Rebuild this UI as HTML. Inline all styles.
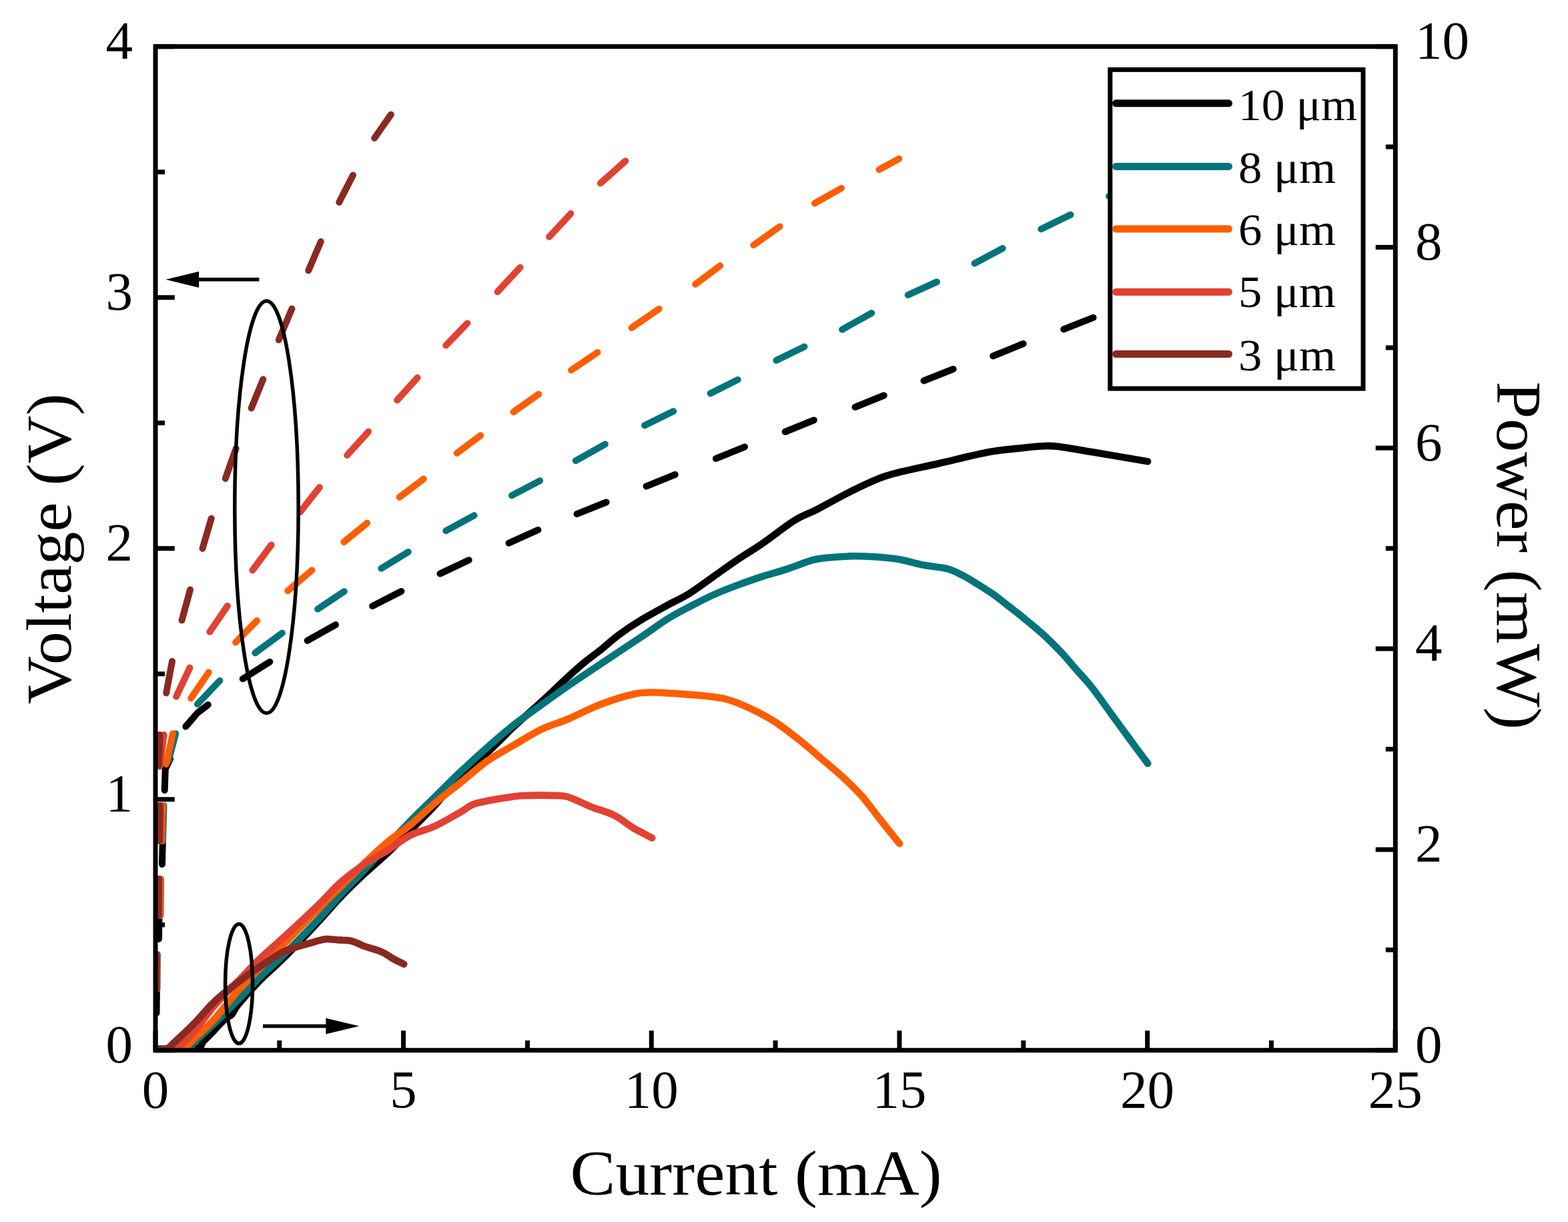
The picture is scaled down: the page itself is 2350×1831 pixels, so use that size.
<!DOCTYPE html>
<html><head><meta charset="utf-8"><title>Voltage and Power vs Current</title>
<style>html,body{margin:0;padding:0;background:#fff;overflow:hidden;}svg{display:block;}</style></head>
<body>
<svg xmlns="http://www.w3.org/2000/svg" width="2350" height="1831" viewBox="0 0 2350 1831">
<rect width="2350" height="1831" fill="#fff"/>
<defs><clipPath id="pa"><rect x="233.0" y="69.7" width="1858.3" height="1504.0"/></clipPath></defs>
<g fill="none" stroke-linecap="round" stroke-linejoin="round" clip-path="url(#pa)">
<path d="M1638.5,475.9 L1594.2,493.4 M1533.6,515.0 L1488.3,533.5 M1428.7,553.0 L1384.5,570.5 M1324.8,592.5 L1281.6,610.0 M1219.9,629.5 L1176.7,647.0 M1116.1,669.6 L1072.9,687.1 M1011.8,711.1 L968.6,728.7 M908.7,752.5 L864.6,770.2 M806.4,794.0 L762.6,813.8 M702.7,839.3 L659.5,859.6 M601.4,886.0 L558.2,908.1 M503.0,936.1 L460.7,959.9 M404.3,991.7 L363.8,1017.2 M311.8,1056.0 L295.9,1068.3 M295.9,1068.3 L278.3,1088.6 M255.0,1137.0 L247.8,1152.0 M247.8,1152.0 L246.7,1184.0 M244.0,1252.0 L243.0,1295.0 M238.5,1367.0 L238.0,1407.0 M235.0,1474.0 L234.5,1518.0" stroke="#000" stroke-width="10"/>
<path d="M1700.0,277.0 L1662.0,294.0 M1604.5,321.7 L1560.3,343.3 M1502.7,372.1 L1460.6,394.7 M1404.0,422.4 L1360.8,442.0 M1306.3,469.1 L1262.1,493.8 M1205.5,519.5 L1163.4,540.1 M1105.8,568.9 L1064.7,589.5 M1009.2,616.3 L966.0,637.4 M906.9,665.6 L862.8,690.3 M809.1,720.3 L767.1,742.4 M710.6,772.3 L668.3,795.3 M611.9,827.0 L571.4,851.7 M515.9,886.2 L476.2,912.6 M422.9,948.5 L382.3,978.4 M329.4,1019.9 L295.9,1055.1 M263.3,1099.2 L252.7,1139.7 M245.5,1207.0 L244.0,1260.0 M241.0,1317.0 L240.5,1372.0 M236.0,1430.0 L235.5,1482.0" stroke="#03747a" stroke-width="10"/>
<path d="M1347.4,237.8 L1317.6,254.2 M1261.1,282.0 L1221.0,304.6 M1168.5,339.5 L1129.5,367.3 M1079.1,398.2 L1042.1,425.9 M987.7,462.9 L946.6,491.1 M895.5,528.1 L856.1,554.6 M807.3,590.7 L769.7,617.2 M720.3,652.5 L684.7,678.9 M634.8,717.7 L598.7,745.0 M550.2,783.8 L515.5,812.0 M467.4,854.5 L431.3,885.3 M385.0,930.0 L353.2,962.6 M312.7,1007.5 L286.2,1046.3 M258.9,1099.2 L249.2,1145.0 M244.0,1207.0 L242.5,1260.0 M240.5,1317.0 L240.0,1372.0 M235.5,1430.0 L235.0,1482.0" stroke="#ff5e00" stroke-width="10"/>
<path d="M937.4,241.2 L900.0,274.6 M855.4,320.1 L823.1,354.9 M779.6,400.7 L745.6,437.2 M700.3,484.4 L668.3,517.6 M625.5,566.1 L595.2,599.6 M552.1,646.8 L520.3,682.0 M478.9,730.2 L449.8,767.2 M406.6,816.6 L378.4,854.5 M340.9,907.9 L314.4,946.7 M284.5,1000.5 L264.2,1043.7 M245.7,1101.0 L239.5,1148.5 M241.0,1207.0 L240.5,1260.0 M238.5,1317.0 L238.0,1372.0 M235.0,1430.0 L234.5,1482.0" stroke="#e14233" stroke-width="10"/>
<path d="M585.9,171.7 L561.2,207.0 M529.0,262.5 L508.3,303.0 M480.8,362.1 L462.3,405.3 M437.5,462.6 L417.8,509.3 M394.3,568.3 L376.7,611.5 M353.7,672.0 L337.8,717.0 M316.7,776.9 L303.5,821.9 M285.0,883.6 L272.6,929.4 M258.0,990.8 L249.2,1038.4 M239.5,1101.0 L237.8,1146.8 M239.5,1207.0 L239.0,1260.0 M238.0,1317.0 L237.5,1372.0 M234.5,1430.0 L234.5,1482.0" stroke="#892a22" stroke-width="10"/>
<path d="M236.0,1571.5 C245.5,1571.5 281.5,1573.4 293.0,1571.5 C304.5,1569.6 300.3,1564.6 305.0,1560.0 C309.7,1555.4 315.5,1549.4 321.0,1543.7 C326.5,1538.0 333.7,1529.9 338.0,1526.0 C342.3,1522.1 344.0,1523.8 347.0,1520.5 C350.0,1517.2 349.2,1514.7 356.0,1506.4 C362.8,1498.1 376.3,1482.6 388.0,1470.6 C399.7,1458.6 411.3,1449.2 426.0,1434.5 C440.7,1419.8 461.8,1397.5 476.0,1382.3 C490.2,1367.1 499.3,1355.7 511.0,1343.5 C522.7,1331.3 534.3,1320.3 546.0,1309.4 C557.7,1298.5 569.3,1289.1 581.0,1278.0 C592.7,1266.9 604.3,1254.7 616.0,1243.0 C627.7,1231.3 638.5,1221.1 651.0,1207.6 C663.5,1194.1 677.7,1175.4 691.0,1162.0 C704.3,1148.6 717.7,1139.3 731.0,1127.0 C744.3,1114.7 757.7,1100.5 771.0,1088.0 C784.3,1075.5 797.7,1064.3 811.0,1052.0 C824.3,1039.7 840.3,1024.2 851.0,1014.4 C861.7,1004.6 866.8,1000.0 875.1,993.1 C883.4,986.2 892.4,980.1 901.0,973.2 C909.6,966.3 917.0,959.0 926.8,951.7 C936.6,944.4 947.5,937.0 959.9,929.5 C972.3,922.0 988.8,913.2 1001.0,906.5 C1013.2,899.8 1021.7,896.4 1033.2,889.2 C1044.7,882.1 1057.6,872.2 1069.8,863.6 C1082.0,855.0 1094.2,846.1 1106.4,837.9 C1118.6,829.6 1129.0,823.8 1143.0,814.1 C1157.0,804.5 1176.8,788.5 1190.4,780.0 C1204.0,771.5 1210.4,770.6 1224.7,763.2 C1239.0,755.8 1260.8,743.4 1276.2,735.7 C1291.7,728.0 1305.9,721.4 1317.4,716.8 C1328.9,712.2 1330.1,712.0 1345.0,708.3 C1359.9,704.6 1383.9,699.7 1406.8,694.5 C1429.7,689.3 1461.8,681.1 1482.3,677.3 C1502.8,673.5 1516.8,673.0 1530.0,671.5 C1543.2,670.0 1552.1,668.9 1561.3,668.5 C1570.5,668.1 1572.7,667.5 1585.3,669.0 C1597.9,670.5 1614.3,673.6 1636.8,677.3 C1659.2,681.0 1706.1,689.0 1720.0,691.4" stroke="#000" stroke-width="10.6"/>
<path d="M236.0,1571.5 C243.3,1571.5 270.8,1573.1 280.0,1571.5 C289.2,1569.9 284.2,1568.1 291.0,1561.8 C297.8,1555.5 310.2,1544.2 321.0,1533.7 C331.8,1523.2 344.8,1510.3 356.0,1499.0 C367.2,1487.7 376.3,1477.3 388.0,1465.8 C399.7,1454.3 411.3,1444.5 426.0,1430.0 C440.7,1415.5 461.8,1393.7 476.0,1378.7 C490.2,1363.7 499.3,1352.5 511.0,1340.0 C522.7,1327.5 534.3,1315.8 546.0,1303.5 C557.7,1291.2 569.3,1278.4 581.0,1266.0 C592.7,1253.6 604.3,1241.2 616.0,1229.3 C627.7,1217.4 638.5,1207.1 651.0,1194.8 C663.5,1182.5 677.7,1168.3 691.0,1155.7 C704.3,1143.1 717.7,1130.9 731.0,1119.2 C744.3,1107.5 757.7,1096.0 771.0,1085.5 C784.3,1075.0 797.7,1066.1 811.0,1056.5 C824.3,1046.9 836.0,1038.4 851.0,1028.0 C866.0,1017.6 882.9,1006.4 901.0,994.3 C919.1,982.1 943.2,966.3 959.9,955.1 C976.6,943.9 988.8,934.6 1001.0,927.0 C1013.2,919.4 1021.7,915.3 1033.2,909.3 C1044.7,903.3 1057.6,896.5 1069.8,891.0 C1082.0,885.5 1094.2,881.0 1106.4,876.4 C1118.6,871.8 1130.8,867.6 1143.0,863.6 C1155.2,859.6 1167.5,856.6 1179.7,852.6 C1191.9,848.6 1206.8,842.5 1216.3,839.7 C1225.8,837.0 1227.1,837.2 1236.6,836.1 C1246.1,835.0 1261.1,833.7 1273.3,833.4 C1285.5,833.1 1297.7,833.5 1309.9,834.3 C1322.1,835.1 1334.3,836.0 1346.5,838.0 C1358.7,840.0 1371.0,844.1 1383.2,846.5 C1395.4,848.9 1409.5,849.5 1419.5,852.2 C1429.5,854.9 1436.2,858.9 1443.5,862.6 C1450.8,866.3 1455.7,869.5 1463.5,874.4 C1471.3,879.3 1482.4,886.1 1490.5,891.8 C1498.6,897.5 1504.8,902.8 1512.0,908.5 C1519.2,914.2 1525.3,918.6 1534.0,925.8 C1542.7,933.0 1554.6,942.5 1564.4,951.5 C1574.2,960.5 1584.9,971.4 1592.8,979.8 C1600.7,988.2 1604.6,993.5 1612.0,1002.0 C1619.4,1010.5 1628.2,1019.5 1637.0,1030.7 C1645.8,1041.9 1655.5,1056.0 1665.0,1069.0 C1674.5,1082.0 1684.7,1096.0 1693.9,1108.5 C1703.1,1121.0 1715.8,1138.1 1720.2,1144.0" stroke="#03747a" stroke-width="10.6"/>
<path d="M236.0,1571.5 C242.0,1571.5 262.8,1574.0 272.0,1571.5 C281.2,1569.0 282.8,1563.9 291.0,1556.5 C299.2,1549.1 310.2,1539.1 321.0,1527.3 C331.8,1515.5 344.8,1498.0 356.0,1485.5 C367.2,1473.0 376.3,1464.2 388.0,1452.3 C399.7,1440.4 411.3,1428.9 426.0,1414.0 C440.7,1399.1 461.8,1377.3 476.0,1363.0 C490.2,1348.7 499.3,1339.8 511.0,1328.2 C522.7,1316.6 534.3,1304.5 546.0,1293.4 C557.7,1282.3 569.3,1271.3 581.0,1261.6 C592.7,1251.9 604.3,1244.9 616.0,1235.3 C627.7,1225.7 638.5,1214.5 651.0,1204.0 C663.5,1193.5 677.7,1182.7 691.0,1172.0 C704.3,1161.3 717.7,1148.9 731.0,1139.6 C744.3,1130.3 757.7,1123.8 771.0,1116.0 C784.3,1108.2 797.7,1099.4 811.0,1093.0 C824.3,1086.6 836.0,1083.8 851.0,1077.5 C866.0,1071.2 884.5,1061.2 901.0,1055.0 C917.5,1048.8 936.8,1042.9 950.0,1040.0 C963.2,1037.1 971.5,1037.7 980.0,1037.5 C988.5,1037.3 994.9,1038.3 1001.0,1038.6 C1007.1,1038.9 1007.9,1038.8 1016.6,1039.5 C1025.3,1040.2 1041.1,1041.1 1053.3,1042.5 C1065.5,1043.9 1077.7,1044.7 1089.9,1048.0 C1102.1,1051.3 1114.3,1056.7 1126.5,1062.5 C1138.7,1068.3 1151.0,1074.8 1163.2,1082.7 C1175.4,1090.7 1187.6,1100.4 1199.8,1110.2 C1212.0,1120.0 1225.7,1132.2 1236.4,1141.3 C1247.1,1150.4 1254.7,1156.5 1263.9,1165.1 C1273.1,1173.6 1282.2,1182.2 1291.4,1192.6 C1300.6,1203.0 1309.3,1215.5 1318.8,1227.4 C1328.2,1239.3 1343.2,1257.9 1348.1,1264.0" stroke="#ff5e00" stroke-width="10.6"/>
<path d="M236.0,1571.5 C240.3,1571.5 252.8,1575.8 262.0,1571.5 C271.2,1567.2 281.2,1556.1 291.0,1545.4 C300.8,1534.7 310.2,1519.5 321.0,1507.1 C331.8,1494.7 344.8,1482.5 356.0,1471.0 C367.2,1459.5 376.3,1449.2 388.0,1438.0 C399.7,1426.8 411.3,1417.2 426.0,1403.7 C440.7,1390.2 461.8,1370.7 476.0,1357.0 C490.2,1343.3 499.3,1332.0 511.0,1321.7 C522.7,1311.4 534.3,1303.0 546.0,1295.0 C557.7,1287.0 569.3,1281.3 581.0,1274.0 C592.7,1266.7 604.3,1257.0 616.0,1251.1 C627.7,1245.1 638.5,1244.1 651.0,1238.3 C663.5,1232.5 681.2,1221.8 691.0,1216.3 C700.8,1210.8 701.2,1208.2 709.9,1205.1 C718.5,1202.0 730.7,1199.9 742.9,1197.8 C755.1,1195.7 767.3,1193.2 783.2,1192.3 C799.1,1191.4 825.9,1191.7 838.1,1192.3 C850.3,1192.9 848.5,1193.2 856.4,1196.0 C864.3,1198.8 875.0,1204.5 885.7,1208.8 C896.4,1213.1 910.1,1216.4 920.5,1221.6 C930.9,1226.8 938.5,1234.2 948.0,1239.9 C957.5,1245.6 972.4,1252.9 977.3,1255.5" stroke="#e14233" stroke-width="10.6"/>
<path d="M236.0,1571.5 C238.3,1571.5 246.0,1572.9 250.0,1571.5 C254.0,1570.1 253.2,1569.3 260.0,1563.0 C266.8,1556.7 280.8,1543.8 291.0,1533.5 C301.2,1523.2 310.2,1511.3 321.0,1501.1 C331.8,1490.9 344.8,1480.9 356.0,1472.3 C367.2,1463.7 376.3,1457.4 388.0,1449.6 C399.7,1441.8 412.3,1431.9 426.0,1425.6 C439.7,1419.3 460.9,1414.4 470.0,1411.6 C479.1,1408.8 477.1,1409.5 480.3,1408.8 C483.5,1408.0 485.8,1407.3 489.2,1407.1 C492.6,1406.9 496.7,1407.5 500.9,1407.8 C505.1,1408.1 510.8,1408.6 514.6,1408.8 C518.4,1409.0 520.7,1408.7 523.6,1409.2 C526.5,1409.7 528.4,1410.3 531.8,1411.6 C535.2,1412.9 540.8,1415.7 544.2,1417.1 C547.6,1418.5 547.6,1418.2 552.4,1419.8 C557.2,1421.4 566.7,1423.8 573.0,1426.7 C579.3,1429.6 584.8,1434.0 590.2,1437.0 C595.6,1440.0 602.8,1443.3 605.3,1444.6" stroke="#892a22" stroke-width="10.6"/>
</g>
<g stroke="#000" stroke-width="7" fill="none">
<rect x="233.0" y="69.7" width="1858.3" height="1504.0" stroke-linejoin="miter"/>
<path d="M233.0,1573.7 H261.8 M233.0,1197.7 H261.8 M233.0,821.7 H261.8 M233.0,445.7 H261.8 M233.0,69.7 H261.8 M233.0,1385.7 H247 M233.0,1009.7 H247 M233.0,633.7 H247 M233.0,257.7 H247 M2091.3,1573.7 H2061.7 M2091.3,1272.9 H2061.7 M2091.3,972.1 H2061.7 M2091.3,671.3 H2061.7 M2091.3,370.5 H2061.7 M2091.3,69.7 H2061.7 M2091.3,1423.3 H2076.8 M2091.3,1122.5 H2076.8 M2091.3,821.7 H2076.8 M2091.3,520.9 H2076.8 M2091.3,220.1 H2076.8 M233.0,1573.7 V1544.2 M604.6,1573.7 V1544.2 M976.3,1573.7 V1544.2 M1348.0,1573.7 V1544.2 M1719.6,1573.7 V1544.2 M2091.2,1573.7 V1544.2 M418.8,1573.7 V1559 M790.5,1573.7 V1559 M1162.1,1573.7 V1559 M1533.8,1573.7 V1559 M1905.4,1573.7 V1559" stroke-linecap="butt"/>
</g>
<g fill="none" stroke="#000" stroke-width="5.5">
<ellipse cx="399.5" cy="759.8" rx="47.7" ry="308.8"/>
<ellipse cx="358.1" cy="1474" rx="20.5" ry="89.5"/>
<path d="M388.4,418.8 H296"/>
<path d="M394,1537.5 H490"/>
</g>
<path d="M248.4,418.8 L298.2,406.7 L298.2,431 Z" fill="#000"/>
<path d="M538.4,1537.5 L488.4,1525.5 L488.4,1549.5 Z" fill="#000"/>
<rect x="1663.8" y="104.4" width="379.2" height="477.8" fill="#fff" stroke="#000" stroke-width="7"/>
<path d="M1672.5,154.8 H1841.5" stroke="#000" stroke-width="11" stroke-linecap="round"/>
<path d="M1672.5,249.4 H1841.5" stroke="#03747a" stroke-width="11" stroke-linecap="round"/>
<path d="M1672.5,343 H1841.5" stroke="#ff5e00" stroke-width="11" stroke-linecap="round"/>
<path d="M1672.5,437.4 H1841.5" stroke="#e14233" stroke-width="11" stroke-linecap="round"/>
<path d="M1672.5,530.5 H1841.5" stroke="#892a22" stroke-width="11" stroke-linecap="round"/>
<g font-family='"Liberation Serif", serif' fill="#000">
<text x="1856" y="179.9" font-size="68" textLength="178" lengthAdjust="spacingAndGlyphs">10 μm</text>
<text x="1856" y="274" font-size="68" textLength="146" lengthAdjust="spacingAndGlyphs">8 μm</text>
<text x="1856" y="367.3" font-size="68" textLength="146" lengthAdjust="spacingAndGlyphs">6 μm</text>
<text x="1856" y="460.3" font-size="68" textLength="146" lengthAdjust="spacingAndGlyphs">5 μm</text>
<text x="1856" y="554.5" font-size="68" textLength="146" lengthAdjust="spacingAndGlyphs">3 μm</text>
<text x="199" y="1592.0" font-size="81" text-anchor="end">0</text>
<text x="199" y="1216.0" font-size="81" text-anchor="end">1</text>
<text x="199" y="840.0" font-size="81" text-anchor="end">2</text>
<text x="199" y="464.0" font-size="81" text-anchor="end">3</text>
<text x="199" y="88.0" font-size="81" text-anchor="end">4</text>
<text x="2121" y="1592.0" font-size="81">0</text>
<text x="2121" y="1291.2" font-size="81">2</text>
<text x="2121" y="990.4" font-size="81">4</text>
<text x="2121" y="689.6" font-size="81">6</text>
<text x="2121" y="388.8" font-size="81">8</text>
<text x="2121" y="88.0" font-size="81">10</text>
<text x="233.0" y="1659.5" font-size="81" text-anchor="middle">0</text>
<text x="604.6" y="1659.5" font-size="81" text-anchor="middle">5</text>
<text x="976.3" y="1659.5" font-size="81" text-anchor="middle">10</text>
<text x="1348.0" y="1659.5" font-size="81" text-anchor="middle">15</text>
<text x="1719.6" y="1659.5" font-size="81" text-anchor="middle">20</text>
<text x="2091.2" y="1659.5" font-size="81" text-anchor="middle">25</text>
<text x="854.5" y="1789.9" font-size="95" textLength="557.1" lengthAdjust="spacingAndGlyphs">Current (mA)</text>
<text transform="translate(105.5,1055) rotate(-90)" font-size="95" textLength="465.6" lengthAdjust="spacingAndGlyphs">Voltage (V)</text>
<text transform="translate(2243.7,571.4) rotate(90)" font-size="95" textLength="521.8" lengthAdjust="spacingAndGlyphs">Power (mW)</text>
</g>
</svg>
</body></html>
